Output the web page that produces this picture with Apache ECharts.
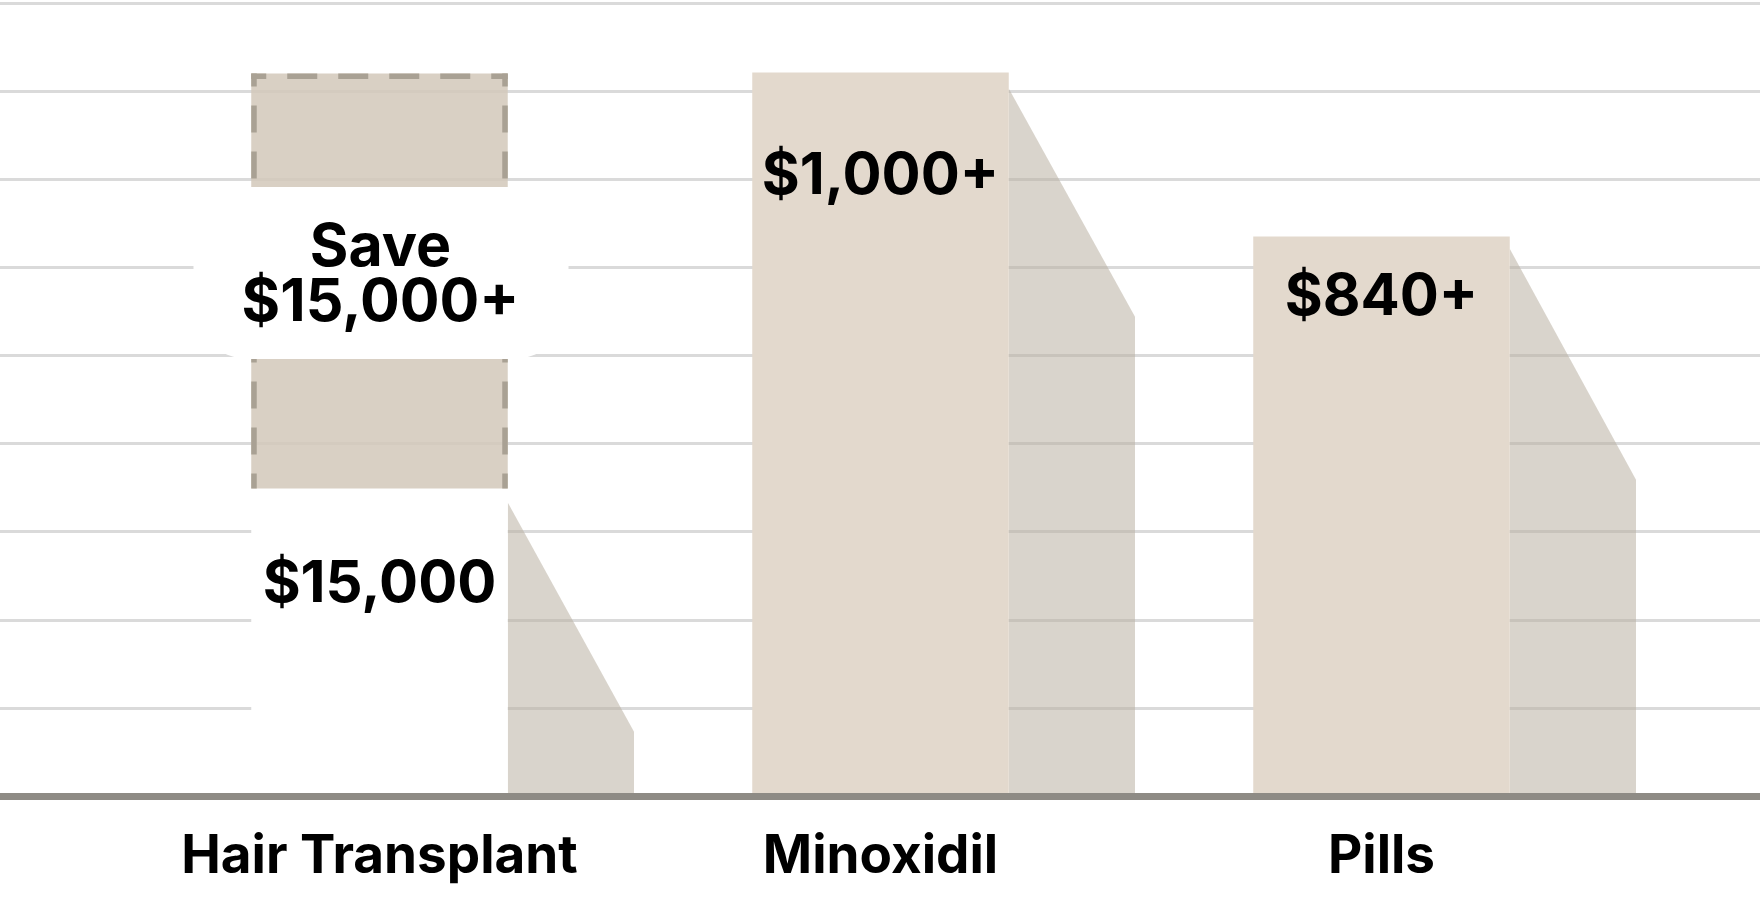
<!DOCTYPE html>
<html>
<head>
<meta charset="utf-8">
<script src="https://cdn.jsdelivr.net/npm/echarts@6/dist/echarts.min.js"></script>
<style>
html,body{margin:0;padding:0;background:#fff;}
#chart{width:1760px;height:915px;}
</style>
</head>
<body>
<div id="chart"></div>
<script>
// ---- data (heights in grid units) ----
const categories = ['Hair Transplant', 'Minoxidil', 'Pills'];
const barHeights = [3.49, 8.21, 6.35];
const savingsTop = [8.20, null, null];
const shadowStart = [3.33, 8.03, 6.21];
const shadowEnd = [0.73, 5.44, 3.59];
const valueLabels = ['$15,000', '$1,000+', '$840+'];
const labelLevels = [2.40, 7.03, 5.66];
const savingsLabel = ['Save', '$15,000+'];
const yTicks = [0, 1, 2, 3, 4, 5, 6, 7, 8, 9];

// ---- styles ----
const FONT = 'Inter, "Noto Sans", sans-serif';
const barFill = ['#ffffff', '#e3d9cd', '#e3d9cd'];
const shadowFill = 'rgba(185,176,162,0.55)';
const dashColor = '#a9a194';

const chart = echarts.init(document.getElementById('chart'));

const barData = categories.map((c, i) => [i, barHeights[i], shadowStart[i], shadowEnd[i], savingsTop[i] == null ? -1 : savingsTop[i], labelLevels[i]]);

function renderBar(params, api) {
  const i = api.value(0);
  const h = api.value(1);
  const s0 = api.value(2);
  const s1 = api.value(3);
  const sav = api.value(4);
  const lv = api.value(5);
  const base = api.coord([i, 0]);
  const top = api.coord([i, h]);
  const band = api.size([1, 0])[0];
  const half = band * 0.256;
  const shW = band * 0.252;
  const x0 = base[0] - half, x1 = base[0] + half;
  const ys0 = api.coord([i, s0])[1];
  const ys1 = api.coord([i, s1])[1];
  const children = [];
  // shadow
  children.push({
    type: 'polygon',
    shape: { points: [[x1, ys0], [x1 + shW, ys1], [x1 + shW, base[1]], [x1, base[1]]] },
    style: { fill: shadowFill }
  });
  // main bar
  children.push({
    type: 'rect',
    shape: { x: x0, y: top[1], width: x1 - x0, height: base[1] - top[1] },
    style: { fill: barFill[i] }
  });
  // savings block
  if (sav > 0) {
    const st = api.coord([i, sav])[1];
    const sb = top[1];
    const lw = 5.5, hw = lw / 2;
    children.push({
      type: 'rect',
      shape: { x: x0, y: st, width: x1 - x0, height: sb - st },
      style: { fill: 'rgba(210,200,186,0.85)' }
    });
    children.push({
      type: 'line',
      shape: { x1: x0, y1: st + hw, x2: x1, y2: st + hw },
      style: { stroke: dashColor, lineWidth: lw, lineDash: [30, 21], lineDashOffset: 15 }
    });
    children.push({
      type: 'line',
      shape: { x1: x0 + hw, y1: st, x2: x0 + hw, y2: sb },
      style: { stroke: dashColor, lineWidth: lw, lineDash: [27, 19], lineDashOffset: 14 }
    });
    children.push({
      type: 'line',
      shape: { x1: x1 - hw, y1: st, x2: x1 - hw, y2: sb },
      style: { stroke: dashColor, lineWidth: lw, lineDash: [27, 19], lineDashOffset: 14 }
    });
    const midY = (st + sb) / 2 - 8;
    children.push({
      type: 'rect',
      shape: { x: base[0] - 186, y: midY - 86, width: 375, height: 172, r: 55 },
      style: { fill: '#ffffff' }
    });
    children.push({
      type: 'text',
      style: {
        text: savingsLabel.join('\n'), x: base[0] + 1, y: midY + 3, align: 'center', verticalAlign: 'middle',
        font: '700 59px ' + FONT, lineHeight: 55, fill: '#000000'
      }
    });
  }
  // value label
  const ly = api.coord([i, lv])[1];
  children.push({
    type: 'text',
    style: {
      text: valueLabels[i], x: base[0], y: ly, align: 'center', verticalAlign: 'middle',
      font: '700 58px ' + FONT, fill: '#000000'
    }
  });
  return { type: 'group', children: children };
}

chart.setOption({
  backgroundColor: '#ffffff',
  animation: false,
  grid: [
    { left: 0, right: 0, top: 3, bottom: 119 },
    { left: 129, width: 1503, top: 3, bottom: 119 }
  ],
  xAxis: [
    { type: 'value', gridIndex: 0, min: 0, max: 1, show: true,
      axisLine: { show: true, onZero: false, lineStyle: { color: '#8e8b85', width: 7 } },
      axisTick: { show: false }, axisLabel: { show: false }, splitLine: { show: false }, z: 10 },
    { type: 'category', gridIndex: 1, data: categories,
      axisLine: { show: false }, axisTick: { show: false }, splitLine: { show: false },
      axisLabel: { show: true, interval: 0, hideOverlap: false, color: '#000000', fontFamily: FONT, fontWeight: 700, fontSize: 53, margin: 35, lineHeight: 53 } }
  ],
  yAxis: [
    { type: 'value', gridIndex: 0, min: yTicks[0], max: yTicks[yTicks.length - 1], interval: 1,
      axisLine: { show: false }, axisTick: { show: false }, axisLabel: { show: false },
      splitLine: { show: true, lineStyle: { color: '#dadada', width: 3 } } },
    { type: 'value', gridIndex: 1, min: yTicks[0], max: yTicks[yTicks.length - 1], interval: 1, show: false }
  ],
  series: [
    { type: 'custom', xAxisIndex: 1, yAxisIndex: 1, renderItem: renderBar, data: barData, z: 5, clip: false }
  ]
});
</script>
</body>
</html>
